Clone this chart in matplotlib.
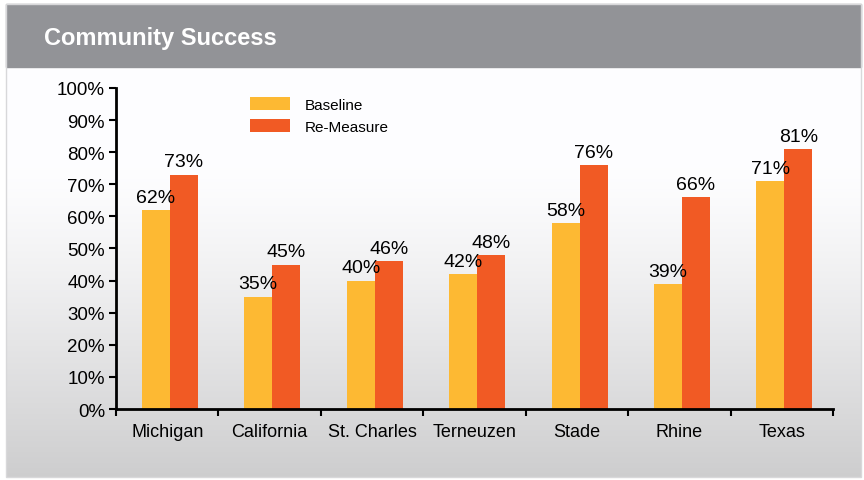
import numpy as np
import matplotlib.pyplot as plt
from matplotlib.patches import Rectangle

plt.rcParams['font.family'] = ['Liberation Sans', 'DejaVu Sans']

sites = ['Michigan', 'California', 'St. Charles', 'Terneuzen', 'Stade', 'Rhine', 'Texas']
baseline = [62, 35, 40, 42, 58, 39, 71]
remeasure = [73, 45, 46, 48, 76, 66, 81]
yticks = [0, 10, 20, 30, 40, 50, 60, 70, 80, 90, 100]

c_base = '#fdb933'
c_re = '#f15a24'

fig = plt.figure(figsize=(8.64, 4.81), dpi=100)

# background panel with vertical gradient
bg = fig.add_axes([0, 0, 1, 1])
bg.set_xlim(0, 864)
bg.set_ylim(481, 0)
bg.axis('off')
t = np.linspace(0, 1, 200)
shade = np.where(t < 0.25, 1.0, 1.0 - 0.19 * ((t - 0.25) / 0.75) ** 1.2)
img = np.stack([shade * 0.995, shade * 0.995, shade], axis=-1).reshape(200, 1, 3)
bg.imshow(img, extent=[6, 861, 478, 68], aspect='auto', zorder=0)
bg.add_patch(Rectangle((6, 5), 855, 63, color='#929397', zorder=1))
bg.add_patch(Rectangle((6, 5), 855, 473, fill=False, ec='#d8d8da', lw=1, zorder=2))
bg.text(44, 39, 'Community Success', color='white', fontsize=17, fontweight='bold',
        va='center', ha='left')

ax = fig.add_axes([0.1343, 0.1476, 0.8299, 0.6674])
ax.patch.set_alpha(0)
x = np.arange(len(sites))
w = 0.273
off = 0.025
b1 = ax.bar(x - w / 2 + off, baseline, w, color=c_base, label='Baseline')
b2 = ax.bar(x + w / 2 + off, remeasure, w, color=c_re, label='Re-Measure')
for bars, vals in ((b1, baseline), (b2, remeasure)):
    for r, v in zip(bars, vals):
        ax.annotate(f'{v}%', (r.get_x() + r.get_width() / 2, v), xytext=(0, 3),
                    textcoords='offset points', ha='center', va='bottom', fontsize=14)

ax.set_xlim(-0.5, len(sites) - 0.5)
ax.set_ylim(0, 100)
ax.set_yticks(yticks)
ax.set_yticklabels([f'{v}%' for v in yticks], fontsize=13.5)
ax.set_xticks(x)
ax.set_xticklabels(sites, fontsize=13)
ax.set_xticks(np.arange(len(sites) + 1) - 0.5, minor=True)
ax.tick_params(axis='x', which='major', length=0, pad=10)
ax.tick_params(axis='x', which='minor', length=5, width=1.5, direction='out')
ax.tick_params(axis='y', length=5, width=1.5, direction='out', pad=3)
for s in ('top', 'right'):
    ax.spines[s].set_visible(False)
for s in ('left', 'bottom'):
    ax.spines[s].set_linewidth(2)

ax.legend(loc='upper left', bbox_to_anchor=(0.168, 1.015), frameon=False, fontsize=11,
          handlelength=2.6, handleheight=0.9, handletextpad=1.0, labelspacing=0.5)

fig.savefig('out.png', dpi=100)
